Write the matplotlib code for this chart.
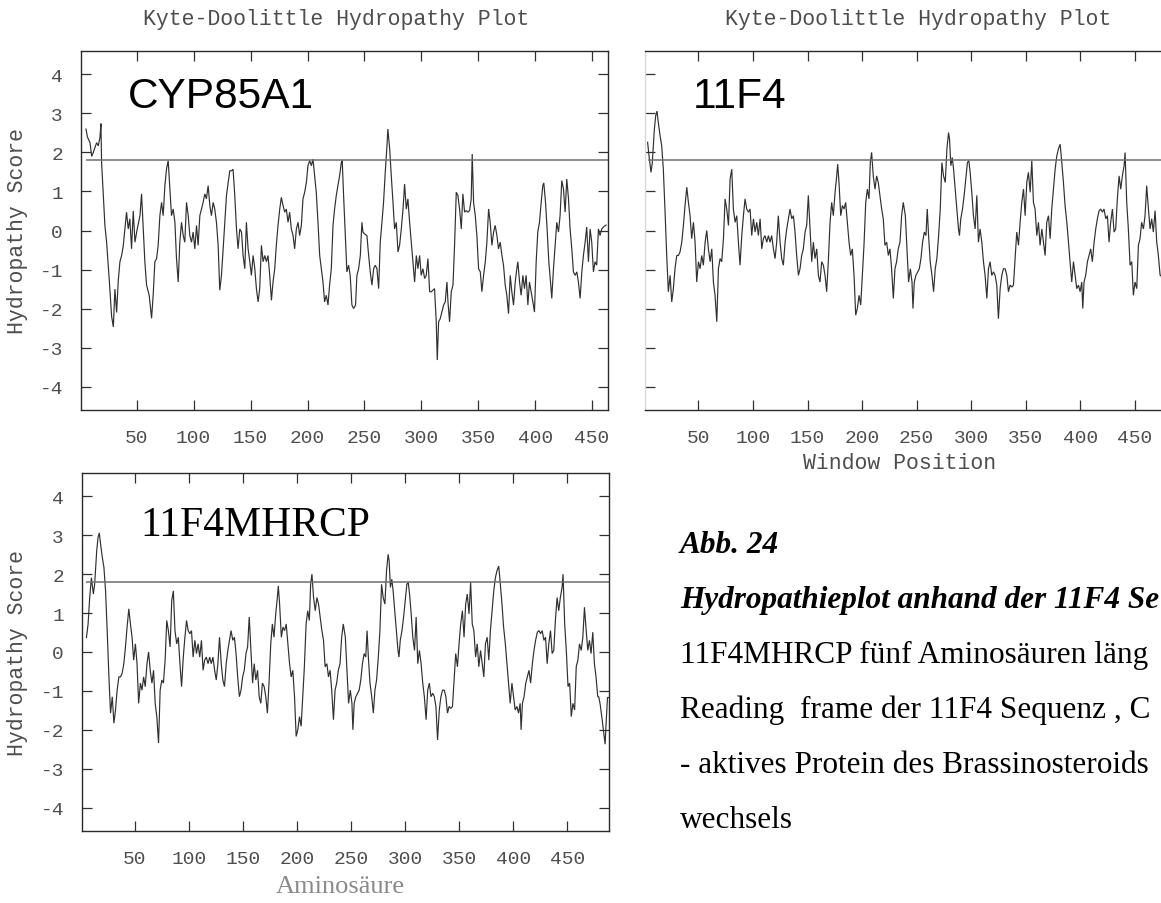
import matplotlib
matplotlib.use("Agg")
import matplotlib.pyplot as plt

# ---------------------------------------------------------------------------
# Kyte-Doolittle hydropathy profiles (window position, hydropathy score)
# ---------------------------------------------------------------------------
cyp_pos = [5.4, 6.6, 8.9, 10.4, 11.8, 14.7, 16.2, 17.7, 18.5, 19.1, 22.0, 23.5, 25.9, 27.9, 29.4, 30.8,
           32.3, 33.7, 35.2, 36.7, 38.1, 39.6, 41.0, 42.5, 43.9, 45.4, 46.9, 48.4, 50.4, 52.8, 54.2, 55.7,
           57.1, 58.6, 60.9, 63.0, 64.4, 65.9, 67.4, 68.8, 70.3, 71.8, 73.2, 74.7, 76.1, 77.6, 79.1, 80.5,
           82.0, 83.5, 84.9, 86.4, 87.8, 89.3, 90.8, 92.2, 93.7, 95.2, 96.6, 98.1, 99.5, 101.0, 102.5, 103.9,
           105.4, 106.8, 108.3, 109.8, 111.2, 112.7, 114.2, 115.6, 117.1, 118.5, 120.0, 121.5, 122.9, 124.4,
           125.9, 127.3, 128.8, 130.3, 131.7, 133.2, 134.6, 136.1, 137.6, 139.0, 140.5, 142.0, 143.4, 144.9,
           146.3, 147.8, 149.3, 150.7, 152.2, 153.7, 155.1, 156.6, 158.0, 159.5, 161.0, 162.4, 163.9, 165.3,
           166.8, 168.3, 169.7, 171.2, 172.6, 174.1, 175.6, 177.0, 178.5, 180.0, 181.4, 182.9, 184.3, 185.8,
           187.3, 188.7, 190.2, 191.7, 193.1, 194.6, 196.0, 197.5, 199.0, 200.4, 201.9, 203.4, 204.8, 206.3,
           207.7, 209.2, 210.7, 213.6, 215.0, 216.5, 218.0, 219.4, 220.9, 222.4, 223.8, 225.3, 226.7, 228.2,
           229.7, 230.5, 231.7, 233.2, 234.6, 236.1, 237.5, 239.0, 240.5, 242.2, 243.4, 244.9, 246.4, 247.8,
           248.7, 250.2, 252.2, 253.7, 255.1, 256.6, 258.1, 259.5, 261.0, 262.5, 263.9, 265.4, 266.8, 268.3,
           269.8, 270.6, 272.2, 273.6, 275.1, 276.5, 278.0, 279.5, 280.9, 282.4, 283.9, 285.3, 286.8, 288.2,
           289.7, 291.2, 292.6, 294.1, 295.6, 297.0, 298.5, 299.9, 301.4, 302.9, 304.3, 305.8, 307.3, 308.7,
           310.2, 311.6, 313.1, 314.0, 315.2, 316.6, 318.1, 319.6, 321.0, 322.5, 323.4, 324.8, 326.3, 327.8,
           329.2, 330.7, 332.1, 333.6, 335.1, 336.5, 338.0, 339.5, 340.9, 342.4, 343.8, 344.7, 345.9, 347.4,
           348.8, 350.3, 351.8, 353.2, 354.7, 356.2, 357.6, 359.1, 360.5, 362.0, 363.5, 364.9, 366.4, 367.8,
           369.3, 370.8, 372.2, 373.7, 375.1, 376.6, 378.1, 379.5, 381.0, 382.5, 383.9, 384.8, 386.3, 387.7,
           389.2, 390.6, 392.1, 393.6, 395.0, 396.5, 398.0, 399.4, 400.9, 402.3, 403.8, 405.3, 406.7, 407.6,
           409.1, 410.5, 412.0, 413.5, 414.6, 416.1, 417.6, 419.0, 420.5, 421.9, 423.4, 424.9, 426.3, 427.8,
           429.3, 430.7, 432.2, 433.6, 435.1, 436.6, 438.0, 439.5, 441.0, 442.4, 443.9, 445.3, 446.8, 448.3,
           449.7, 451.2, 452.6, 454.1, 455.6, 457.0, 458.5, 460.0, 462.3]
cyp_kd = [2.6, 2.4, 2.25, 1.9, 2.0, 2.25, 2.17, 2.4, 2.74, 1.74, 0.13, -0.3, -1.3, -2.2, -2.47, -1.5,
          -2.1, -1.3, -0.8, -0.64, -0.4, 0.04, 0.47, 0.04, 0.3, -0.47, 0.5, -0.3, 0.04, 0.38, 0.94, 0.04,
          -0.8, -1.4, -1.66, -2.25, -1.66, -0.8, -0.72, -0.38, 0.38, 0.72, 0.38, 1.15, 1.57, 1.79, 1.06, 0.38,
          0.55, 0.21, -0.72, -1.32, -0.3, 0.21, -0.13, -0.3, 0.72, 0.38, -0.13, -0.3, -0.04, -0.47, 0.13, -0.38,
          0.38, 0.55, 0.72, 0.94, 0.81, 1.15, 0.64, 0.38, 0.72, 0.55, 0.21, -0.38, -1.53, -1.15,
          -0.47, 0.21, 0.9, 1.23, 1.53, 1.53, 1.57, 0.9, 0.04, -0.47, 0.04, -0.04, -0.64, -0.98,
          0.21, -0.47, -0.8, -1.15, -0.64, -0.98, -1.49, -1.83, -1.49, -0.38, -0.8, -0.64, -0.8, -0.64,
          -1.15, -1.79, -1.32, -0.98, -0.38, 0.13, 0.55, 0.85, 0.64, 0.47, 0.55, 0.21, 0.47, 0.04,
          -0.13, -0.47, 0.04, 0.21, -0.13, 0.13, 0.81, 0.98, 1.23, 1.66, 1.79, 1.66, 1.83, 1.4,
          0.98, 0.21, -0.64, -1.32, -1.83, -1.66, -1.91, -1.4, -0.98, 0.13, 0.55, 0.9, 1.15, 1.4,
          1.74, 1.79, 0.9, -0.13, -1.06, -0.89, -1.15, -1.91, -2.0, -1.91, -1.15, -0.98, -0.64, 0.21,
          -0.04, -0.09, -0.13, -0.64, -1.06, -1.4, -0.98, -0.89, -0.98, -1.49, -0.3, 0.21, 0.72, 1.49,
          2.17, 2.6, 2.09, 1.4, 0.72, 0.04, 0.21, -0.55, -0.38, 0.04, 0.55, 1.19, 0.55, 0.81,
          0.21, -0.3, -0.8, -1.32, -0.64, -0.98, -0.64, -1.15, -0.98, -1.23, -1.15, -0.72, -1.57, -1.57,
          -1.53, -1.49, -2.34, -3.32, -2.34, -2.26, -2.09, -1.91, -1.83, -1.32, -1.83, -2.34, -1.57, -1.4,
          -0.38, 0.98, 0.9, 0.55, 0.04, 0.94, 0.47, 0.51, 0.47, 0.51, 0.81, 1.96, 0.72, 0.38,
          -0.13, -0.98, -1.06, -1.57, -1.15, -0.8, -0.3, 0.55, 0.21, -0.38, -0.04, 0.13, -0.13, -0.47,
          -0.3, -0.64, -0.89, -1.4, -1.66, -2.13, -1.15, -1.57, -1.91, -1.32, -0.98, -0.8, -1.32, -1.66,
          -1.15, -1.49, -1.15, -1.91, -1.32, -1.57, -1.83, -2.09, -0.8, -0.04, 0.21, 0.72, 1.15, 1.22,
          0.72, 0.04, -0.8, -1.32, -1.74, -0.98, -0.38, 0.21, -0.04, 0.38, 1.28, 1.06, 0.47, 1.32,
          0.81, 0.04, -0.47, -1.06, -1.15, -1.06, -1.32, -1.74, -1.06, -0.64, -0.3, 0.09, -0.8, 0.04,
          -0.3, -1.06, -0.8, -0.89, 0.04, -0.13, 0.04, 0.09, 0.14]

f4_pos = [3.4, 4.7, 6.5, 7.7, 9.6, 10.8, 12.0, 13.2, 14.8, 16.3, 17.8, 19.4, 20.9, 22.4, 24.0, 25.5,
          27.0, 28.5, 30.1, 31.6, 33.1, 34.7, 36.2, 37.7, 39.3, 40.8, 42.3, 43.8, 45.4, 46.9, 48.4, 50.0,
          51.5, 53.0, 54.5, 56.1, 57.6, 59.1, 60.7, 62.2, 63.7, 65.2, 66.8, 68.3, 69.8, 71.3, 72.9, 74.4,
          75.9, 77.5, 79.0, 80.5, 82.0, 83.6, 85.1, 86.6, 88.1, 89.7, 91.2, 92.7, 94.2, 95.8, 97.3, 98.8,
          100.4, 101.9, 103.4, 104.9, 106.5, 108.0, 109.5, 111.0, 112.6, 114.1, 115.6, 117.1, 118.7, 120.2,
          121.7, 123.2, 124.8, 126.3, 127.8, 129.4, 130.9, 132.4, 133.9, 135.5, 137.0, 138.5, 140.0, 141.6,
          143.1, 144.6, 146.1, 147.7, 149.2, 150.7, 152.3, 153.8, 155.3, 156.8, 158.4, 159.9, 161.4, 162.9,
          164.5, 166.0, 167.5, 169.0, 170.6, 172.1, 173.6, 175.2, 176.7, 177.6, 178.8, 180.4, 181.9, 183.4,
          184.9, 186.5, 188.0, 189.5, 191.0, 192.6, 194.1, 195.6, 197.2, 198.7, 200.2, 201.7, 203.3, 204.8,
          206.3, 207.5, 208.7, 210.2, 211.8, 213.3, 214.8, 216.3, 217.9, 219.4, 220.9, 222.5, 224.0, 225.5,
          227.0, 228.6, 230.1, 231.6, 233.1, 234.7, 236.2, 237.7, 239.6, 241.1, 242.6, 244.2, 245.7, 246.6,
          247.8, 249.3, 250.9, 252.4, 253.9, 255.4, 257.0, 258.5, 259.7, 260.9, 262.4, 264.0, 265.5, 267.0,
          268.5, 270.1, 271.6, 273.1, 274.6, 276.2, 277.7, 279.2, 280.1, 281.3, 282.6, 283.8, 285.3, 286.8,
          288.3, 289.2, 290.4, 292.0, 293.5, 295.0, 296.5, 297.8, 299.0, 300.5, 302.0, 303.6, 305.1, 306.6,
          308.1, 309.7, 311.2, 312.7, 314.3, 315.8, 317.3, 318.8, 320.4, 321.9, 323.4, 324.9, 326.5, 328.0,
          329.5, 331.1, 332.6, 334.1, 335.6, 337.2, 338.7, 340.2, 341.7, 343.3, 344.8, 346.3, 347.9, 349.4,
          350.9, 352.4, 354.0, 355.5, 357.0, 358.5, 360.1, 361.6, 363.1, 364.7, 366.2, 367.7, 369.2, 370.8,
          372.3, 373.8, 375.3, 376.9, 378.4, 379.9, 381.5, 383.0, 384.5, 386.0, 387.6, 389.1, 390.6, 392.1,
          393.7, 395.2, 396.7, 398.3, 399.8, 401.3, 402.2, 403.4, 404.9, 406.5, 408.0, 409.5, 411.0, 412.6,
          414.1, 415.6, 417.2, 418.7, 420.2, 421.7, 423.3, 424.8, 426.3, 427.8, 429.4, 430.9, 432.4, 433.9,
          435.5, 437.0, 438.5, 440.1, 441.0, 442.5, 444.0, 445.6, 447.1, 448.6, 450.1, 451.7, 453.2, 454.7,
          456.2, 457.8, 459.3, 460.8, 462.4, 463.9, 465.4, 466.9, 468.5, 470.0, 471.5, 473.1, 474.0, 475.3,
          476.9, 478.4, 479.9, 480.8, 482.1, 483.0]
f4_kd = [2.26, 1.91, 1.49, 1.74, 2.6, 2.94, 3.06, 2.77, 2.43, 2.17, 1.57, 0.47, -0.64, -1.57, -1.15, -1.83,
         -1.49, -0.98, -0.64, -0.64, -0.55, -0.3, 0.13, 0.64, 1.11, 0.72, 0.38, -0.21, 0.21, -0.3, -1.32, -0.8,
         -0.98, -0.64, -0.89, -0.3, 0.0, -0.47, -0.8, -0.47, -1.32, -1.66, -2.34, -0.98, -0.72, -0.8, -0.21, 0.81,
         0.55, 0.13, 1.32, 1.57, 0.55, 0.21, 0.38, -0.3, -0.89, -0.13, 0.38, 0.81, 0.55, 0.47, 0.55, -0.13,
         0.3, -0.04, 0.21, -0.13, 0.3, -0.47, -0.21, -0.13, -0.3, -0.13, -0.3, -0.13, -0.47, -0.72,
         -0.3, 0.38, -0.3, -0.72, -0.89, -0.3, 0.04, 0.3, 0.55, 0.3, 0.38, -0.04, -0.64, -1.15,
         -0.98, -0.64, -0.47, -0.04, 0.13, 0.9, 0.04, -0.8, -0.3, -0.72, -0.47, -1.15, -1.32, -0.8,
         -0.89, -1.15, -1.57, -0.8, 0.21, 0.72, 0.38, 0.98, 1.4, 1.7, 1.23, 0.38, 0.64, 0.55,
         0.72, 0.21, -0.3, -0.64, -0.47, -1.15, -2.17, -2.0, -1.66, -1.91, -1.15, -0.38, 0.72, 1.06,
         0.81, 1.74, 2.0, 1.4, 1.06, 1.4, 1.23, 0.9, 0.55, 0.3, -0.38, -0.3, -0.64, -0.47,
         -0.98, -1.74, -0.98, -0.8, -0.47, -0.3, 0.38, 0.72, 0.38, -0.47, -1.32, -0.98, -1.32, -2.0,
         -1.32, -1.15, -1.06, -0.98, -0.72, -0.3, -0.04, -0.13, 0.55, -0.13, -0.8, -1.15, -1.57, -0.98,
         -0.72, -0.13, 0.55, 1.74, 1.4, 1.23, 2.09, 2.51, 2.34, 1.66, 1.87, 1.57, 1.06, 0.55,
         0.04, -0.13, 0.3, 0.55, 0.9, 1.32, 1.74, 1.79, 1.49, 0.98, 0.38, 0.04, 0.9, -0.3,
         0.04, -0.3, -0.8, -1.15, -1.74, -0.98, -0.8, -1.15, -1.06, -1.15, -1.4, -2.26, -1.49, -1.15,
         -0.98, -0.98, -1.15, -1.57, -1.4, -1.45, -1.4, -0.72, -0.04, -0.38, 0.21, 0.72, 1.06, 0.38,
         1.23, 1.49, 0.98, 1.79, 0.72, 0.55, -0.13, 0.21, -0.38, 0.04, -0.3, -0.64, 0.21, 0.38,
         -0.21, 0.55, 1.06, 1.57, 1.91, 2.09, 2.21, 1.74, 1.23, 0.64, 0.21, -0.3, -0.8, -1.32,
         -0.8, -1.15, -1.49, -1.4, -1.57, -1.32, -2.0, -1.32, -1.15, -0.8, -0.64, -0.47, -0.8, -0.3,
         0.04, 0.3, 0.51, 0.55, 0.47, 0.55, 0.3, 0.38, -0.3, 0.21, 0.55, -0.04, 0.04, 0.81,
         1.4, 1.06, 1.4, 1.66, 2.0, 0.72, 0.04, -0.89, -0.8, -1.66, -1.32, -1.49, -0.38, -0.21,
         0.21, 0.04, 0.38, 1.15, 0.55, 0.04, 0.3, -0.04, 0.51, -0.3, -0.64, -1.15, -1.15, -1.34,
         -1.68, -2.03, -2.37, -1.85, -1.17, -1.17]

# 11F4MHRCP carries five extra N-terminal residues: its own first windows,
# then the 11F4 profile moved five positions to the right.
MHRCP_OFFSET = 5
mhrcp_head_pos = [5.1, 6.6, 8.1]
mhrcp_head_kd = [0.37, 0.71, 1.39]
mhrcp_pos = mhrcp_head_pos + [p + MHRCP_OFFSET for p in f4_pos[1:]]
mhrcp_kd = mhrcp_head_kd + f4_kd[1:]

THRESHOLD = 1.8
x_ticks = [50, 100, 150, 200, 250, 300, 350, 400, 450]
y_ticks = [-4, -3, -2, -1, 0, 1, 2, 3, 4]
y_limits = (-4.6, 4.6)

panels = [
    dict(name="CYP85A1", pos=cyp_pos, kd=cyp_kd, xmax=464),
    dict(name="11F4", pos=f4_pos, kd=f4_kd, xmax=484),
    dict(name="11F4MHRCP", pos=mhrcp_pos, kd=mhrcp_kd, xmax=488.5),
]

# ---------------------------------------------------------------------------
W, H = 1161, 904
plt.rcParams["axes.unicode_minus"] = False
fig = plt.figure(figsize=(W / 100, H / 100), dpi=100)
fig.patch.set_facecolor("white")

MONO = "Liberation Mono"
TICK_SIZE = 14
LABEL_SIZE = 15.5
GREY_TXT = "#4d4d4d"


def px_box(left, top, width, height):
    return [left / W, 1 - (top + height) / H, width / W, height / H]


def fx(x):
    return x / W


def fy(y):
    return 1 - y / H


def draw_panel(ax, panel, show_ylabels=True, faint_left=False):
    ax.plot(panel["pos"], panel["kd"], color="#303030", lw=0.85, solid_joinstyle="miter")
    ax.hlines(THRESHOLD, panel["pos"][0], panel["xmax"], color="#6e6e6e", lw=1.1)
    ax.set_xlim(1, panel["xmax"])
    ax.set_ylim(*y_limits)
    ax.set_xticks(x_ticks)
    ax.set_xticklabels([str(v) for v in x_ticks])
    ax.set_yticks(y_ticks)
    ax.set_yticklabels([str(v) for v in y_ticks] if show_ylabels else [])
    ax.tick_params(direction="in", length=7, width=0.9, color="#303030",
                   top=True, right=True, labelcolor=GREY_TXT, labelsize=TICK_SIZE)
    ax.tick_params(axis="x", pad=14)
    ax.tick_params(axis="y", pad=13)
    for lbl in ax.get_xticklabels() + ax.get_yticklabels():
        lbl.set_family(MONO)
    for side in ("top", "bottom", "left", "right"):
        ax.spines[side].set_color("#2a2a2a")
        ax.spines[side].set_linewidth(1.0)
    if faint_left:
        ax.spines["left"].set_color("#d8d8d8")


ax1 = fig.add_axes(px_box(81, 52, 527, 359))
ax2 = fig.add_axes(px_box(645, 52, 527, 359))
ax3 = fig.add_axes(px_box(82, 474, 527, 358))

draw_panel(ax1, panels[0])
draw_panel(ax2, panels[1], show_ylabels=False, faint_left=True)
draw_panel(ax3, panels[2])

# plot titles and axis labels
title = "Kyte-Doolittle Hydropathy Plot"
fig.text(fx(336), fy(20), title, ha="center", va="center", family=MONO,
         fontsize=LABEL_SIZE, color=GREY_TXT)
fig.text(fx(918), fy(20), title, ha="center", va="center", family=MONO,
         fontsize=LABEL_SIZE, color=GREY_TXT)
fig.text(fx(18), fy(231.5), "Hydropathy Score", rotation=90, ha="center", va="center",
         family=MONO, fontsize=LABEL_SIZE, color=GREY_TXT)
fig.text(fx(18), fy(653), "Hydropathy Score", rotation=90, ha="center", va="center",
         family=MONO, fontsize=LABEL_SIZE, color=GREY_TXT)
fig.text(fx(900), fy(464), "Window Position", ha="center", va="center",
         family=MONO, fontsize=LABEL_SIZE, color=GREY_TXT)

# sequence names inside the panels
fig.text(fx(128), fy(108), panels[0]["name"], family="Liberation Sans", fontsize=30.5,
         va="baseline", color="black")
fig.text(fx(693), fy(108), panels[1]["name"], family="Liberation Sans", fontsize=30.5,
         va="baseline", color="black")
fig.text(fx(140), fy(536), panels[2]["name"], family="Liberation Serif", fontsize=30,
         va="baseline", color="black")

fig.text(fx(340), fy(887), "Aminosäure", family="Liberation Serif", fontsize=19,
         ha="center", va="center", color="#8a8a8a")

# figure caption
caption = [
    ("Abb. 24", True),
    ("Hydropathieplot anhand der 11F4 Se", True),
    ("11F4MHRCP fünf Aminosäuren läng", False),
    ("Reading  frame der 11F4 Sequenz , C", False),
    ("- aktives Protein des Brassinosteroids", False),
    ("wechsels", False),
]
for i, (line, bold) in enumerate(caption):
    fig.text(fx(680), fy(553 + 55 * i), line, family="Liberation Serif", fontsize=22.5,
             va="baseline", ha="left", color="black",
             weight="bold" if bold else "normal", style="italic" if bold else "normal")

fig.savefig("out.png", dpi=100, facecolor="white")
